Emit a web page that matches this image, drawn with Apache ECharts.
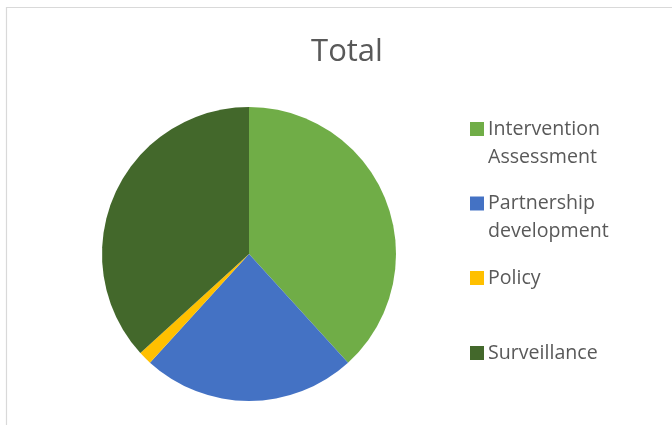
<!DOCTYPE html>
<html>
<head>
<meta charset="utf-8">
<script src="https://cdn.jsdelivr.net/npm/echarts@6/dist/echarts.min.js"></script>
<style>
html,body{margin:0;padding:0;background:#fff;}
#chart{width:672px;height:425px;}
</style>
</head>
<body>
<div id="chart"></div>
<script>
var categories = ['Intervention\nAssessment', 'Partnership\ndevelopment', 'Policy', 'Surveillance'];
var values = [26, 16, 1, 25];
var colors = ['#70AD47', '#4472C4', '#FFC000', '#43682B'];
var titleText = 'Total';

var chart = echarts.init(document.getElementById('chart'), null, {renderer: 'canvas'});

var legendCenters = [129, 203.5, 278, 353];
var LH = 28;
var legends = categories.map(function (name, i) {
  var twoLine = name.indexOf('\n') >= 0;
  return {
    data: [name],
    orient: 'vertical',
    left: 470,
    top: legendCenters[i] - (twoLine ? 1.5 * LH : 0.5 * LH),
    padding: 0,
    itemWidth: 14,
    itemHeight: 14,
    itemGap: 0,
    icon: 'rect',
    selectedMode: false,
    formatter: function (n) { return n.indexOf('\n') >= 0 ? '\n' + n : n; },
    textStyle: {
      color: '#595959',
      fontFamily: 'Open Sans',
      fontSize: 19.6,
      lineHeight: LH,
      padding: [0, 0, 0, -1]
    }
  };
});

chart.setOption({
  animation: false,
  backgroundColor: '#ffffff',
  color: colors,
  title: {
    text: titleText,
    left: 342,
    top: 32,
    textAlign: 'center',
    textStyle: {
      color: '#595959',
      fontFamily: 'Open Sans',
      fontSize: 31,
      fontWeight: 'normal'
    }
  },
  graphic: [{
    type: 'rect',
    shape: {x: 6.5, y: 7.5, width: 700, height: 450},
    style: {fill: 'none', stroke: '#d9d9d9', lineWidth: 1.2},
    silent: true,
    z: -1
  }],
  legend: legends,
  series: [{
    type: 'pie',
    center: [249, 254],
    radius: 147,
    startAngle: 90,
    clockwise: true,
    label: {show: false},
    labelLine: {show: false},
    itemStyle: {borderWidth: 0},
    emphasis: {disabled: true},
    data: categories.map(function (c, i) { return {name: c, value: values[i]}; })
  }]
});
</script>
</body>
</html>
